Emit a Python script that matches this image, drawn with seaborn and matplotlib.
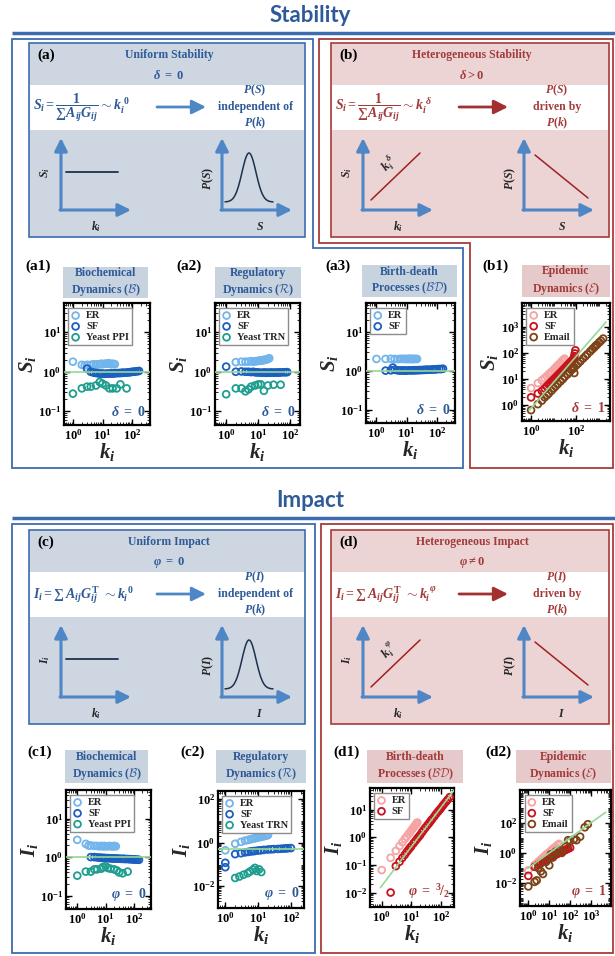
import numpy as np
import matplotlib
matplotlib.use("Agg")
import matplotlib.pyplot as plt
import seaborn as sns
from matplotlib.patches import Rectangle, Polygon
from matplotlib.ticker import LogLocator, NullFormatter

# ---------------- data ----------------
# (a1) biochemical dynamics, stability
a1_er_k = [1, 2, 2.5, 3, 4, 5, 6, 7, 8, 9, 10, 12, 14, 16, 18, 20, 23, 26]
a1_er_s = [1.8, 1.5, 1.45, 1.5, 1.5, 1.55, 1.5, 1.55, 1.55, 1.6, 1.55, 1.6, 1.6, 1.65, 1.6, 1.55, 1.6, 1.55]
a1_sf_k = [3, 4, 5, 6, 7, 8, 9, 10, 12, 14, 16, 18, 20, 23, 26, 30, 35, 40, 45, 50, 60, 70, 80, 90, 100, 115, 130, 150, 170]
a1_sf_s = [1.2, 1.0, 0.95, 0.93, 0.92, 0.9, 0.9, 0.9, 0.89, 0.9, 0.9, 0.9, 0.91, 0.9, 0.92, 0.92, 0.93, 0.93, 0.94,
           0.95, 0.95, 0.96, 0.97, 0.98, 1.0, 1.0, 1.02, 1.03, 1.05]
a1_ye_k = [1, 2, 3, 4, 6, 8, 10, 13, 17, 22, 30, 40, 65]
a1_ye_s = [0.28, 0.38, 0.42, 0.42, 0.45, 0.55, 0.5, 0.45, 0.38, 0.38, 0.38, 0.48, 0.38]
a1_fit_k = [0.5, 400]
a1_fit_s = [1.0, 1.0]

# (a2) regulatory dynamics, stability
a2_er_k = [2, 3, 4, 5, 6, 7, 8, 9, 10, 11, 12, 13, 14, 15, 16, 18, 20, 22]
a2_er_s = [1.75, 1.8, 1.8, 1.8, 1.85, 1.8, 1.85, 1.85, 1.9, 1.9, 1.9, 1.95, 1.95, 2.0, 2.0, 2.05, 2.1, 2.2]
a2_sf_k = [1, 2, 3, 4, 5, 6, 7, 8, 9, 10, 12, 14, 16, 18, 20, 23, 26, 30, 35, 40, 45, 50, 60, 70, 80]
a2_sf_s = [1.35, 1.0, 1.02, 1.0, 1.0, 0.98, 1.0, 0.97, 0.97, 0.96, 0.95, 0.95, 0.96, 0.94, 0.95, 0.95, 0.96,
           0.95, 0.96, 0.95, 0.96, 0.96, 0.97, 0.97, 0.98]
a2_ye_k = [1, 2, 3, 4, 5, 6, 8, 10, 12, 15, 20, 30, 50]
a2_ye_s = [0.27, 0.38, 0.38, 0.32, 0.36, 0.42, 0.45, 0.48, 0.48, 0.33, 0.45, 0.47, 0.47]
a2_fit_k = [0.45, 200]
a2_fit_s = [1.0, 1.0]

# (a3) birth-death processes, stability
a3_er_k = [1, 2, 3, 4, 5, 6, 7, 8, 9, 10, 11, 12, 13, 14, 15, 16, 18, 20, 22]
a3_er_s = [2.0, 2.0, 2.02, 2.0, 1.98, 2.0, 2.01, 2.0, 2.0, 1.99, 2.0, 2.0, 2.01, 2.0, 2.0, 1.99, 2.0, 2.0, 2.0]
a3_sf_k = [2, 3, 3.5, 4, 5, 6, 7, 8, 9, 10, 12, 14, 16, 18, 20, 23, 26, 30, 35, 40, 45, 50, 60, 70, 80, 90,
           100, 120, 140, 160]
a3_sf_s = [1.0, 1.02, 1.2, 1.05, 1.02, 1.0, 1.02, 1.0, 1.01, 1.0, 1.02, 1.01, 1.02, 1.03, 1.02, 1.03, 1.03,
           1.04, 1.04, 1.05, 1.05, 1.06, 1.06, 1.07, 1.08, 1.08, 1.09, 1.1, 1.1, 1.12]
a3_fit_k = [0.45, 400]
a3_fit_s = [1.0, 1.0]

# (b1) epidemic dynamics, stability
b1_er_k = [1, 2, 3, 4, 5, 6, 7, 8, 10, 12, 14, 16, 18, 20, 23, 26, 30]
b1_er_s = [4.5, 7, 9, 11, 13, 15, 17, 19, 23, 27, 31, 35, 38, 42, 48, 54, 60]
b1_sf_k = [1, 2, 3, 4, 5, 6, 7, 8, 9, 10, 12, 14, 16, 18, 20, 23, 26, 30, 35, 40, 45, 50, 55, 60, 65, 70,
           75, 80, 85, 90]
b1_sf_s = [2, 2.8, 3.5, 4.4, 5.3, 6.2, 7.1, 8, 8.8, 9.7, 11.4, 13, 14.6, 16.2, 17.8, 20, 22.5, 25.5, 29.5,
           33, 37, 40.5, 44, 47.5, 51, 55, 62, 75, 95, 125]
b1_em_k = [1, 2, 3, 4, 5, 6, 8, 10, 12, 15, 20, 25, 30, 40, 50, 60, 70, 80, 80, 100, 120, 150, 200, 250,
           300, 400, 500, 600, 700, 800, 1000, 1200, 1500]
b1_em_s = [0.65, 1.1, 1.5, 2.0, 2.4, 2.8, 3.6, 4.5, 5.3, 6.4, 8.2, 10, 12, 15, 18.5, 22, 25, 28, 17, 34,
           40, 48, 62, 75, 88, 113, 138, 160, 185, 205, 250, 290, 350]
b1_fit_k = [0.85, 2000]
b1_fit_s = [0.65, 1500]

# (c1) biochemical dynamics, impact
c1_er_k = [1, 2, 2.5, 3, 4, 5, 6, 7, 8, 9, 10, 12, 14, 16, 18, 20, 23]
c1_er_i = [2.8, 2.2, 2.0, 2.0, 1.95, 1.95, 1.9, 1.95, 1.9, 1.95, 1.9, 1.9, 1.95, 1.9, 1.9, 1.95, 1.9]
c1_sf_k = [3, 4, 5, 6, 7, 8, 9, 10, 12, 14, 16, 18, 20, 23, 26, 30, 35, 40, 45, 50, 60, 70, 80, 90, 100,
           115, 130, 150]
c1_sf_i = [1.0, 1.0, 0.98, 0.97, 0.96, 0.95, 0.95, 0.94, 0.94, 0.93, 0.93, 0.92, 0.92, 0.92, 0.91, 0.91,
           0.9, 0.9, 0.9, 0.89, 0.89, 0.88, 0.88, 0.87, 0.87, 0.86, 0.86, 0.85]
c1_ye_k = [1, 2, 3, 4, 5, 7, 8, 10, 12, 15, 20, 25, 30, 40, 60]
c1_ye_i = [0.33, 0.42, 0.42, 0.48, 0.48, 0.5, 0.55, 0.58, 0.52, 0.5, 0.48, 0.45, 0.4, 0.38, 0.42]
c1_fit_k = [0.4, 400]
c1_fit_i = [1.0, 1.0]

# (c2) regulatory dynamics, impact
c2_er_k = [1, 2, 3, 4, 5, 6, 7, 8, 9, 10, 12, 14, 16, 18, 20]
c2_er_i = [0.45, 0.9, 1.1, 1.25, 1.35, 1.45, 1.55, 1.6, 1.7, 1.75, 1.85, 1.95, 2.05, 2.15, 2.25]
c2_sf_k = [1, 1, 2, 3, 4, 5, 6, 7, 8, 10, 12, 15, 20, 25, 30, 40, 50, 60, 70, 80, 100]
c2_sf_i = [0.12, 0.075, 0.3, 0.33, 0.36, 0.38, 0.4, 0.41, 0.42, 0.44, 0.45, 0.47, 0.49, 0.5, 0.51, 0.52,
           0.53, 0.54, 0.55, 0.56, 0.57]
c2_ye_k = [2, 2.7, 3.6, 4.8, 5.7, 7, 8, 9, 10.7, 12.5]
c2_ye_i = [0.024, 0.028, 0.034, 0.04, 0.048, 0.058, 0.07, 0.05, 0.06, 0.045]
c2_fit_k = [0.6, 250]
c2_fit_i = [0.5, 0.5]

# (d1) birth-death processes, impact
d1_er_k = [1, 2, 3, 4, 5, 6, 7, 8, 9, 10, 11, 12, 13, 14, 15, 16]
d1_er_i = [0.065, 0.18, 0.32, 0.48, 0.66, 0.86, 1.06, 1.28, 1.5, 1.75, 2.0, 2.25, 2.5, 2.8, 3.1, 3.4]
d1_sf_k = [2, 3, 4, 5, 6, 7, 8, 9, 10, 12, 14, 16, 18, 20, 23, 26, 30, 35, 40, 45, 50, 60, 70, 80, 90, 100,
           115, 130, 150, 170, 200]
d1_sf_i = [0.01, 0.09, 0.13, 0.18, 0.23, 0.29, 0.35, 0.41, 0.47, 0.61, 0.75, 0.9, 1.05, 1.2, 1.5, 1.8, 2.2,
           2.7, 3.2, 3.8, 4.4, 5.6, 7.0, 8.3, 9.7, 11, 13.5, 16, 19, 22.5, 28]
d1_fit_k = [0.9, 300]
d1_fit_i = [0.015, 55]

# (d2) epidemic dynamics, impact
d2_er_k = [1, 2, 3, 4, 5, 6, 7, 8, 9, 10, 12, 14, 16, 18, 20, 25, 30]
d2_er_i = [0.07, 0.16, 0.26, 0.37, 0.48, 0.6, 0.72, 0.85, 0.97, 1.1, 1.4, 1.65, 1.95, 2.2, 2.5, 3.3, 4.0]
d2_sf_k = [1, 2, 3, 4, 5, 6, 7, 8, 10, 12, 15, 20, 25, 30, 40, 50, 60, 70, 80, 100]
d2_sf_i = [0.03, 0.12, 0.17, 0.21, 0.25, 0.3, 0.33, 0.37, 0.44, 0.5, 0.6, 0.75, 0.88, 1.0, 1.2, 1.4, 1.6,
           1.75, 1.9, 2.2]
d2_em_k = [1, 2, 2.5, 3, 4, 5, 7, 10, 12, 15, 20, 30, 40, 60, 80, 100, 150, 200, 300, 500, 700]
d2_em_i = [0.006, 0.012, 0.015, 0.1, 0.06, 0.04, 0.25, 0.15, 0.8, 0.5, 1.2, 1.5, 1.0, 2.5, 7, 6, 8, 7, 12,
           50, 80]
d2_fit_k = [0.9, 5000]
d2_fit_i = [0.09, 500]

# ---------------- colours ----------------
BLUE_T = "#2e5a98"
BLUE_E = "#3d6cb0"
BLUE_F = "#cdd6e1"
BLUE_TB = "#c8d3e0"
RED_T = "#a33b3b"
RED_E = "#a83a3a"
RED_F = "#ecd4d5"
RED_TB = "#e6c9ca"
ARROW_B = "#4f86c6"
C_ER_B = "#72b4ec"
C_SF_B = "#1b5fc1"
C_YEAST = "#1f9e8f"
C_ER_R = "#f5a3a3"
C_SF_R = "#c8121c"
C_EMAIL = "#7b4317"
C_FIT = "#95d995"

sns.set_style("ticks")
plt.rcParams["font.family"] = ["Liberation Serif", "DejaVu Serif"]
plt.rcParams["font.weight"] = "bold"
plt.rcParams["mathtext.fontset"] = "custom"
plt.rcParams["mathtext.rm"] = "Liberation Serif:bold"
plt.rcParams["mathtext.it"] = "Liberation Serif:italic:bold"
plt.rcParams["mathtext.bf"] = "Liberation Serif:bold"

W, H = 615, 956
fig = plt.figure(figsize=(W / 100, H / 100), dpi=100)
bg = fig.add_axes([0, 0, 1, 1])
bg.set_xlim(0, W)
bg.set_ylim(H, 0)
bg.axis("off")


def fr(x0, y0, x1, y1):
    return [x0 / W, 1 - y1 / H, (x1 - x0) / W, (y1 - y0) / H]


def arrow(p0, p1, color, lw=2.2, ms=11):
    bg.annotate("", xy=p1, xytext=p0,
                arrowprops=dict(arrowstyle="-|>,head_length=0.7,head_width=0.35", color=color,
                                lw=lw, shrinkA=0, shrinkB=0, mutation_scale=ms))


def concept(x0, y0, x1, y1, dark, fill, edge, arrow_c, letter, title, param, formula, rhs,
            ylab1, ylab2, xlab2, hetero, diag_lab):
    bg.add_patch(Rectangle((x0, y0), x1 - x0, y1 - y0, fc=fill, ec=edge, lw=1.2))
    bg.add_patch(Rectangle((x0 + 0.8, y0 + 42), x1 - x0 - 1.6, 45, fc="white", ec="none"))
    bg.text(x0 + 8, y0 + 12, letter, fontsize=11, color="black", va="center")
    cx = (x0 + x1) / 2 + 2
    bg.text(cx, y0 + 12, title, fontsize=8.5, color=dark, ha="center", va="center")
    bg.text(cx, y0 + 32, param, fontsize=9, color=dark, ha="center", va="center")
    bg.text(x0 + 4, y0 + 65, formula, fontsize=10, color=dark, va="center")
    arrow((x0 + 128, y0 + 64), (x0 + 177, y0 + 64), arrow_c, lw=2.0, ms=12)
    bg.text(x0 + 226, y0 + 64, rhs, fontsize=8.5, color=dark, ha="center", va="center",
            linespacing=1.3)
    oy = y0 + 167
    for ox in (x0 + 32, x0 + 193):
        arrow((ox, oy), (ox, y0 + 95), ARROW_B)
        arrow((ox - 1, oy), (ox + 70, oy), ARROW_B)
    bg.text(x0 + 16, y0 + 130, ylab1, fontsize=8.5, rotation=90, ha="center", va="center")
    bg.text(x0 + 67, y0 + 184, r"$k_i$", fontsize=8.5, ha="center", va="center")
    bg.text(x0 + 179, y0 + 135, ylab2, fontsize=8.5, rotation=90, ha="center", va="center")
    bg.text(x0 + 231, y0 + 184, xlab2, fontsize=8.5, ha="center", va="center")
    if not hetero:
        bg.plot([x0 + 37, x0 + 89], [y0 + 129, y0 + 129], color="#1e3050", lw=1.3)
        xs = np.linspace(-24, 24, 80)
        bg.plot(x0 + 220 + xs, y0 + 159 - 49 * np.exp(-xs ** 2 / (2 * 7.0 ** 2)), color="#1e3050", lw=1.1)
    else:
        bg.plot([x0 + 40, x0 + 89], [y0 + 157, y0 + 110], color="#a02020", lw=1.1)
        bg.text(x0 + 58, y0 + 121, diag_lab, fontsize=9, rotation=45, ha="center", va="center")
        bg.plot([x0 + 204, x0 + 257], [y0 + 112, y0 + 155], color="#a02020", lw=1.1)


def data_panel(frame, tbox, tcol, tfill, title, tag, tag_xy, series, fit, xlim, ylim, xt, yt,
               ylab, note, note_col):
    bg.add_patch(Rectangle((tbox[0], tbox[1]), tbox[2] - tbox[0], tbox[3] - tbox[1], fc=tfill, ec="none"))
    bg.text((tbox[0] + tbox[2]) / 2, (tbox[1] + tbox[3]) / 2, title, fontsize=8.5, color=tcol,
            ha="center", va="center", linespacing=1.3, math_fontfamily="cm")
    bg.text(tag_xy[0], tag_xy[1], tag, fontsize=11, color="black", va="center")
    ax = fig.add_axes(fr(*frame))
    ax.set_xscale("log")
    ax.set_yscale("log")
    for k, v, col, lab in series:
        sns.scatterplot(x=k, y=v, ax=ax, color=col, facecolor="none", edgecolor=col, linewidth=1.3,
                        s=24, label=lab, zorder=3)
    sns.lineplot(x=fit[0], y=fit[1], ax=ax, color=C_FIT, lw=1.2, errorbar=None, zorder=4)
    ax.set_xlim(*xlim)
    ax.set_ylim(*ylim)
    ax.set_xticks(xt)
    ax.set_yticks(yt)
    for a in (ax.xaxis, ax.yaxis):
        a.set_minor_locator(LogLocator(base=10, subs=np.arange(1, 10) * 1.0, numticks=100))
        a.set_minor_formatter(NullFormatter())
    ax.tick_params(which="major", direction="in", length=4, width=1.0, top=True, right=True,
                   labelsize=9, pad=2, colors="black")
    ax.tick_params(which="minor", direction="in", length=2.2, width=0.7, top=True, right=True)
    for sp in ax.spines.values():
        sp.set_linewidth(1.6)
        sp.set_color("black")
    ax.set_xlabel(r"$k_i$", fontsize=15, labelpad=-1)
    ax.set_ylabel(ylab, fontsize=15, labelpad=0)
    ax.legend(loc="upper left", bbox_to_anchor=(0.05, 0.96), frameon=True, fancybox=False,
              edgecolor="#8c8c8c", framealpha=1, fontsize=7.5, handlelength=0.8, handletextpad=0.6,
              labelspacing=0.15, borderpad=0.3, borderaxespad=0)
    ax.text(0.95, 0.05, note, transform=ax.transAxes, fontsize=10, color=note_col, ha="right", va="bottom")
    return ax


# ---------------- section: Stability ----------------
bg.text(310, 15, "Stability", fontsize=16, family="Lato", weight="bold", color=BLUE_T,
        ha="center", va="center")
bg.plot([12, 615], [33, 33], color=BLUE_E, lw=2.5, solid_capstyle="butt")
bg.add_patch(Polygon([(12, 39), (313, 39), (313, 248), (463, 248), (463, 468), (12, 468)],
                     closed=True, fill=False, ec=BLUE_E, lw=1.3))
bg.add_patch(Polygon([(319, 39), (613, 39), (613, 468), (470, 468), (470, 243), (319, 243)],
                     closed=True, fill=False, ec=RED_E, lw=1.3))

concept(29, 43, 305, 237, BLUE_T, BLUE_F, BLUE_E, ARROW_B, "(a)", "Uniform Stability",
        r"$\delta\ =\ 0$", r"$S_i = \dfrac{1}{\sum A_{ij}G_{ij}}\sim k_i^{\ 0}$",
        "$P(S)$\nindependent of\n$P(k)$", r"$S_i$", r"$P(S)$", r"$S$", False, "")
concept(331, 43, 609, 237, RED_T, RED_F, RED_E, "#a33030", "(b)", "Heterogeneous Stability",
        r"$\delta > 0$", r"$S_i = \dfrac{1}{\sum A_{ij}G_{ij}}\sim k_i^{\ \delta}$",
        "$P(S)$\ndriven by\n$P(k)$", r"$S_i$", r"$P(S)$", r"$S$", True, r"$k_i^{\ \delta}$")

tick3 = [1, 10, 100]
data_panel((64, 303, 150, 425), (63, 267, 148, 298), BLUE_T, BLUE_TB,
           "Biochemical\nDynamics ($\\mathcal{B}$)", "(a1)", (25, 266),
           [(a1_er_k, a1_er_s, C_ER_B, "ER"), (a1_sf_k, a1_sf_s, C_SF_B, "SF"),
            (a1_ye_k, a1_ye_s, C_YEAST, "Yeast PPI")],
           (a1_fit_k, a1_fit_s), (0.5, 400), (0.045, 55), tick3, [0.1, 1, 10],
           r"$S_i$", r"$\delta\ =\ 0$", BLUE_T)
data_panel((215, 303, 300, 425), (215, 267, 301, 298), BLUE_T, BLUE_TB,
           "Regulatory\nDynamics ($\\mathcal{R}$)", "(a2)", (176, 266),
           [(a2_er_k, a2_er_s, C_ER_B, "ER"), (a2_sf_k, a2_sf_s, C_SF_B, "SF"),
            (a2_ye_k, a2_ye_s, C_YEAST, "Yeast TRN")],
           (a2_fit_k, a2_fit_s), (0.45, 200), (0.045, 55), tick3, [0.1, 1, 10],
           r"$S_i$", r"$\delta\ =\ 0$", BLUE_T)
data_panel((366, 303, 455, 423), (362, 265, 457, 297), BLUE_T, BLUE_TB,
           "Birth-death\nProcesses ($\\mathcal{BD}$)", "(a3)", (325, 266),
           [(a3_er_k, a3_er_s, C_ER_B, "ER"), (a3_sf_k, a3_sf_s, C_SF_B, "SF")],
           (a3_fit_k, a3_fit_s), (0.45, 400), (0.045, 55), tick3, [0.1, 1, 10],
           r"$S_i$", r"$\delta\ =\ 0$", BLUE_T)
data_panel((522, 303, 610, 421), (522, 265, 610, 297), RED_T, RED_TB,
           "Epidemic\nDynamics ($\\mathcal{E}$)", "(b1)", (482, 266),
           [(b1_er_k, b1_er_s, C_ER_R, "ER"), (b1_sf_k, b1_sf_s, C_SF_R, "SF"),
            (b1_em_k, b1_em_s, C_EMAIL, "Email")],
           (b1_fit_k, b1_fit_s), (0.4, 3000), (0.25, 8000), [1, 100], [1, 10, 100, 1000],
           r"$S_i$", r"$\delta\ =\ 1$", RED_T)

# ---------------- section: Impact ----------------
bg.text(310, 500, "Impact", fontsize=16, family="Lato", weight="bold", color=BLUE_T,
        ha="center", va="center")
bg.plot([12, 615], [518, 518], color=BLUE_E, lw=2.5, solid_capstyle="butt")
bg.add_patch(Rectangle((12, 524), 303, 429, fill=False, ec=BLUE_E, lw=1.3))
bg.add_patch(Rectangle((321, 524), 292, 429, fill=False, ec=RED_E, lw=1.3))

concept(29, 530, 305, 724, BLUE_T, BLUE_F, BLUE_E, ARROW_B, "(c)", "Uniform Impact",
        r"$\varphi\ =\ 0$", r"$I_i = \sum\, A_{ij}G_{ij}^{\mathrm{T}}\ \sim k_i^{\ 0}$",
        "$P(I)$\nindependent of\n$P(k)$", r"$I_i$", r"$P(I)$", r"$I$", False, "")
concept(331, 530, 609, 724, RED_T, RED_F, RED_E, "#a33030", "(d)", "Heterogeneous Impact",
        r"$\varphi \neq 0$", r"$I_i = \sum\, A_{ij}G_{ij}^{\mathrm{T}}\ \sim k_i^{\ \varphi}$",
        "$P(I)$\ndriven by\n$P(k)$", r"$I_i$", r"$P(I)$", r"$I$", True, r"$k_i^{\ \varphi}$")

data_panel((66, 790, 151, 909), (65, 750, 148, 783), BLUE_T, BLUE_TB,
           "Biochemical\nDynamics ($\\mathcal{B}$)", "(c1)", (27, 752),
           [(c1_er_k, c1_er_i, C_ER_B, "ER"), (c1_sf_k, c1_sf_i, C_SF_B, "SF"),
            (c1_ye_k, c1_ye_i, C_YEAST, "Yeast PPI")],
           (c1_fit_k, c1_fit_i), (0.4, 400), (0.045, 55), tick3, [0.1, 1, 10],
           r"$I_i$", r"$\varphi\ =\ 0$", BLUE_T)
data_panel((218, 791, 304, 908), (216, 750, 306, 783), BLUE_T, BLUE_TB,
           "Regulatory\nDynamics ($\\mathcal{R}$)", "(c2)", (180, 752),
           [(c2_er_k, c2_er_i, C_ER_B, "ER"), (c2_sf_k, c2_sf_i, C_SF_B, "SF"),
            (c2_ye_k, c2_ye_i, C_YEAST, "Yeast TRN")],
           (c2_fit_k, c2_fit_i), (0.6, 250), (1e-3, 240), tick3, [0.01, 1, 100],
           r"$I_i$", r"$\varphi\ =\ 0$", BLUE_T)
data_panel((370, 788, 454, 907), (367, 750, 463, 783), RED_T, RED_TB,
           "Birth-death\nProcesses ($\\mathcal{BD}$)", "(d1)", (333, 752),
           [(d1_er_k, d1_er_i, C_ER_R, "ER"), (d1_sf_k, d1_sf_i, C_SF_R, "SF")],
           (d1_fit_k, d1_fit_i), (0.4, 280), (0.003, 60), tick3, [0.01, 0.1, 1, 10],
           r"$I_i$", r"$\varphi\ =\ {}^{3}\!/_{2}$", RED_T)
data_panel((520, 790, 611, 906), (516, 750, 611, 783), RED_T, RED_TB,
           "Epidemic\nDynamics ($\\mathcal{E}$)", "(d2)", (485, 752),
           [(d2_er_k, d2_er_i, C_ER_R, "ER"), (d2_sf_k, d2_sf_i, C_SF_R, "SF"),
            (d2_em_k, d2_em_i, C_EMAIL, "Email")],
           (d2_fit_k, d2_fit_i), (0.4, 9000), (3e-4, 1.5e4), [1, 10, 100, 1000], [0.01, 1, 100],
           r"$I_i$", r"$\varphi\ =\ 1$", RED_T)

fig.savefig("out.png", dpi=100)
